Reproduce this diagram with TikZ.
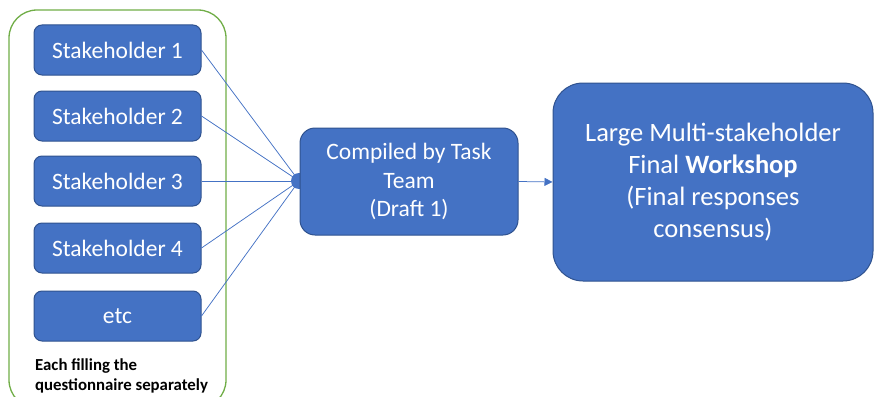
\documentclass[tikz,border=0pt]{standalone}
\usepackage{fontspec}
\setmainfont{Carlito}
\usetikzlibrary{arrows.meta}
\definecolor{boxblue}{HTML}{4472C4}
\definecolor{boxedge}{HTML}{2F528F}
\definecolor{groupgreen}{HTML}{70AD47}
\tikzset{
	stake/.style={draw=boxedge, fill=boxblue, line width=1pt, rounded corners=8pt, minimum width=167pt, minimum height=50pt, text=white, font=\fontsize{23.5}{28.5}\selectfont},
	link/.style={boxblue, line width=0.75pt},
}

\begin{document}
\begin{tikzpicture}[x=1pt, y=-1pt]
			\useasboundingbox (0,0) rectangle (874,396);
			\begin{scope}
				\clip (0,0) rectangle (874,396);
				\draw[groupgreen, line width=1.3pt, rounded corners=28pt] (9,10) rectangle (226,408);
			\end{scope}
			\node[stake] (s1) at (117.5,50) {Stakeholder 1};
			\node[stake] (s2) at (117.5,116) {Stakeholder 2};
			\node[stake] (s3) at (117.5,181) {Stakeholder 3};
			\node[stake] (s4) at (117.5,248) {Stakeholder 4};
			\node[stake] (etc) at (117.5,316) {etc};
			\node[anchor=west, inner sep=0pt, align=left, font=\fontsize{16.8}{19.5}\selectfont\bfseries] (note) at (35,376) {Each filling the\\questionnaire separately};
			% hub where the responses meet
			\node[circle, fill=boxblue, minimum size=16pt, inner sep=0pt] (hub) at (299,181) {};
			\foreach \s in {s1,s2,s3,s4,etc}
				\draw[link] (\s.east) -- (hub.center);
			\node[stake, rounded corners=15pt, minimum width=218pt, minimum height=107pt, align=center] (comp) at (409,181.5) {Compiled by Task\\Team\\(Draft 1)};
			\node[stake, rounded corners=30pt, minimum width=320pt, minimum height=198pt, align=center, font=\fontsize{26.5}{32}\selectfont] (final) at (713,182) {Large Multi-stakeholder\\Final \textbf{Workshop}\\(Final responses\\consensus)};
			\draw[link, -{Triangle[length=8pt, width=8pt]}] (comp.east) -- (final.west);
		\end{tikzpicture}
\end{document}
